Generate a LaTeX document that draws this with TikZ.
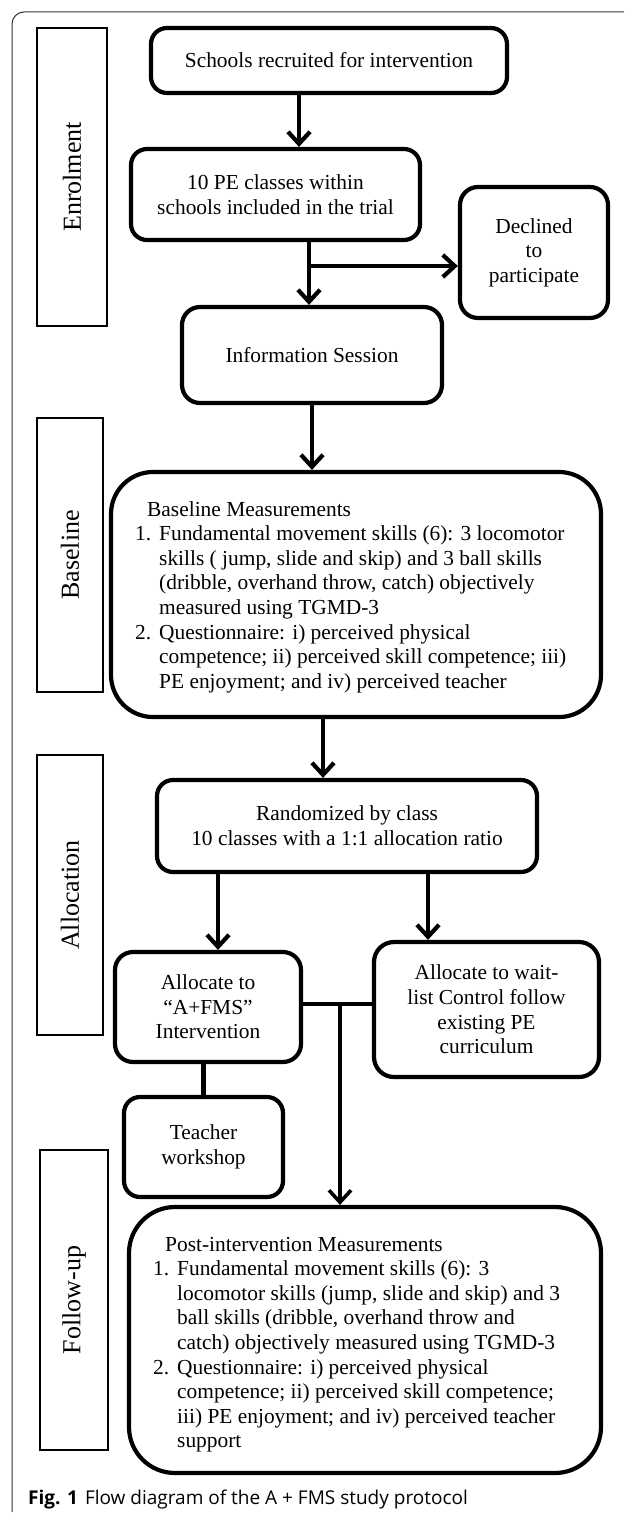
\documentclass[tikz,border=0pt]{standalone}
\usepackage{fontspec}
\setmainfont{Liberation Serif}
\newfontfamily\capfont{Open Sans}
\usetikzlibrary{arrows.meta}
\newcommand{\mfont}{\fontsize{21.4}{24.6}\selectfont}
\newcommand{\itm}[1]{\makebox[24pt][l]{#1}}
\begin{document}
\begin{tikzpicture}[x=1pt,y=-1pt,
  box/.style={draw, line width=4.2pt, rounded corners=16pt, align=center, inner sep=0pt, font=\mfont},
  bigbox/.style={box, rounded corners=42pt},
  lab/.style={draw, line width=2.5pt, inner sep=0pt, rotate=90, font=\fontsize{26}{30}\selectfont},
  txt/.style={inner sep=0pt, font=\mfont},
  arr/.style={line width=4.2pt, -{Straight Barb[length=12pt,width=22pt]}},
  link/.style={line width=4.2pt},
  framec/.style={draw=black!80, line width=1pt}
]
\useasboundingbox (0,0) rectangle (624,1514);
\fill[white] (0,0) rectangle (624,1514);
% page frame
\draw[framec, rounded corners=12pt] (624,12) -- (12,12) -- (12,1512);

% side labels
\node[lab, minimum width=298pt, minimum height=70pt] (lEnrol) at (72,177) {Enrolment};
\node[lab, minimum width=274pt, minimum height=66pt] (lBase) at (70,555) {Baseline};
\node[lab, minimum width=280pt, minimum height=66pt] (lAlloc) at (70,895) {Allocation};
\node[lab, minimum width=300pt, minimum height=68pt] (lFollow) at (74,1300) {Follow-up};

% boxes
\node[box, minimum width=356pt, minimum height=65pt] (schools) at (329,60.5) {Schools recruited for\ intervention};
\node[box, minimum width=289pt, minimum height=91pt] (pe10) at (275.5,194.5) {10 PE classes within\\schools included in the trial};
\node[box, rounded corners=18pt, minimum width=148pt, minimum height=131pt] (declined) at (534,252.5) {Declined\\to\\participate};
\node[box, rounded corners=18pt, minimum width=260pt, minimum height=96pt] (info) at (312,355) {Information Session};
\node[bigbox, minimum width=490pt, minimum height=245pt] (baseline) at (356,594.5) {};
\node[txt, anchor=base west] (btext) at (135,516) {\begin{tabular}[t]{@{}l@{}}
\hspace*{12pt}Baseline Measurements\\
\itm{1.}Fundamental movement skills (6): 3 locomotor\\
\itm{}skills ( jump, slide and skip) and 3 ball skills\\
\itm{}(dribble, overhand throw, catch) objectively\\
\itm{}measured using TGMD-3\\
\itm{2.}Questionnaire: i) perceived physical\\
\itm{}competence; ii) perceived skill competence; iii)\\
\itm{}PE enjoyment; and iv) perceived teacher
\end{tabular}};
\node[box, minimum width=380pt, minimum height=92pt] (rand) at (347,826) {Randomized by class\\10 classes with a 1:1 allocation ratio};
\node[box, rounded corners=18pt, minimum width=186pt, minimum height=110pt] (afms) at (208,1007) {Allocate to\\“A+FMS”\\Intervention};
\node[box, rounded corners=20pt, minimum width=225pt, minimum height=135pt] (wait) at (486.5,1009.5) {Allocate to wait-\\list Control follow\\existing PE\\curriculum};
\node[box, minimum width=159pt, minimum height=100pt] (teacher) at (203.5,1147) {Teacher\\workshop};
\node[bigbox, rounded corners=46pt, minimum width=472pt, minimum height=266pt] (post) at (365,1340) {};
\node[txt, anchor=base west] (ptext) at (153,1251) {\begin{tabular}[t]{@{}l@{}}
\hspace*{12pt}Post-intervention Measurements\\
\itm{1.}Fundamental movement skills (6): 3\\
\itm{}locomotor skills (jump, slide and skip) and 3\\
\itm{}ball skills (dribble, overhand throw and\\
\itm{}catch) objectively measured using TGMD-3\\
\itm{2.}Questionnaire: i) perceived physical\\
\itm{}competence; ii) perceived skill competence;\\
\itm{}iii) PE enjoyment; and iv) perceived teacher\\
\itm{}support
\end{tabular}};

% caption
\node[anchor=base west, inner sep=0pt, font=\capfont\fontsize{19}{22}\selectfont] (cap) at (28,1504) {\textbf{Fig. 1}\hspace{7pt}Flow diagram of the A + FMS study protocol};

% junction coordinates
\coordinate (j1) at (309,266);
\coordinate (j2) at (340,1004);

% connectors
\draw[arr] ([xshift=-30pt]schools.south) -- ([xshift=-30pt]schools.south |- pe10.north);
\draw[link] ([xshift=33.5pt]pe10.south) -- (j1);
\draw[arr] (j1) -- (j1 |- info.north);
\draw[arr] (j1) -- (j1 -| declined.west);
\draw[arr] (info.south) -- (info.south |- baseline.north);
\draw[arr] ([xshift=-33pt]baseline.south) -- ([xshift=-33pt]baseline.south |- rand.north);
\draw[arr] ([xshift=-129pt]rand.south) -- ([xshift=-129pt]rand.south |- afms.north);
\draw[arr] ([xshift=81pt]rand.south) -- ([xshift=81pt]rand.south |- wait.north);
\draw[link] (j2 -| afms.east) -- (j2 -| wait.west);
\draw[arr, line width=3.6pt] (j2) -- (j2 |- post.north);
\draw[link] (teacher.north |- afms.south) -- (teacher.north);
\end{tikzpicture}
\end{document}
